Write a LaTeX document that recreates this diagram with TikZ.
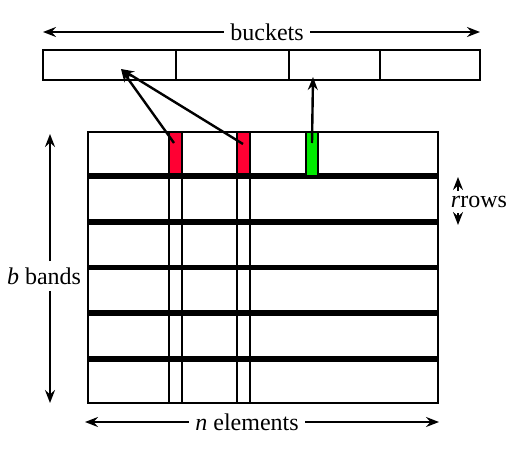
\documentclass[tikz,border=0pt]{standalone}
\usepackage{fontspec}
\setmainfont{Liberation Serif}
\usepackage{tikz}
\usetikzlibrary{arrows.meta, calc}

\definecolor{hashred}{RGB}{255,0,51}
\definecolor{hashgreen}{RGB}{0,235,0}

\begin{document}
\begin{tikzpicture}[x=0.5pt, y=-0.5pt,
    cell/.style={draw=black, line width=1.4pt},
    band/.style={draw=black, line width=1.1pt},
    arrow/.style={-{Stealth[length=6.5pt, width=5pt, inset=2.2pt]}, line width=1.2pt},
    label/.style={font=\fontsize{12}{14}\selectfont, inner sep=3pt}
]
\useasboundingbox (0,0) rectangle (523,449);

% Buckets
\draw[cell] (43,50) rectangle (480,80);
\foreach \x in {176, 289, 380}
    \draw[cell] (\x,50) -- (\x,80);

% Hashed cells of the first band
\fill[hashred] (169,132) rectangle (182,176);
\fill[hashred] (237,132) rectangle (250,176);

% Bands
\foreach \yt/\yb in {132/174.5, 177.5/220.5, 223.5/266, 268.5/311.5, 314.5/357.5, 360.5/403}
    \draw[band] (88,\yt) rectangle (438,\yb);

% Columns
\draw[band] (169,132) rectangle (182,403);
\draw[band] (237,132) rectangle (250,403);
\draw[band, fill=hashgreen] (306,132) rectangle (318,176);

% Hash arrows
\coordinate (h1) at (174,143);
\coordinate (h2) at (243,144);
\coordinate (h3) at (312,143);
\coordinate (b1) at (121,69);
\coordinate (b3) at (313,77);
\draw[arrow] (h1) -- (b1);
\draw[arrow] (h2) -- (b1);
\draw[arrow] (h3) -- (b3);

% Dimension labels
\node[label] (buckets) at (267,32) {buckets};
\coordinate (bkl) at (43,32);
\coordinate (bkr) at (480,32);
\draw[arrow] (buckets) -- (bkl);
\draw[arrow] (buckets) -- (bkr);

\node[label] (elements) at (247,422) {\textit{n} elements};
\coordinate (el) at (85,422);
\coordinate (er) at (439,422);
\draw[arrow] (elements) -- (el);
\draw[arrow] (elements) -- (er);

\node[label] (bands) at (44,276) {\textit{b} bands};
\coordinate (bt) at (50,134);
\coordinate (bb) at (50,403);
\draw[arrow] (bands.north -| bt) -- (bt);
\draw[arrow] (bands.south -| bb) -- (bb);

\node[label, inner sep=2.5pt] (rows) at (479,202) {\textit{r}rows};
\coordinate (rt) at (458,177);
\coordinate (rb) at (458,225);
\draw[arrow] (rows.north -| rt) -- (rt);
\draw[arrow] (rows.south -| rb) -- (rb);

\end{tikzpicture}
\end{document}
